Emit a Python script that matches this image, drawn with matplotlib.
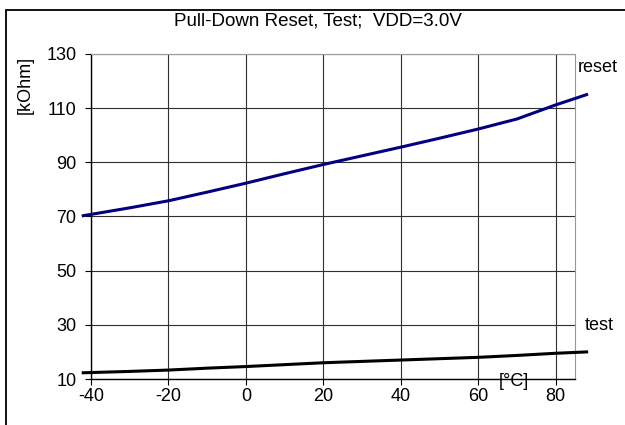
import matplotlib.pyplot as plt
from matplotlib.patches import Rectangle

# Temperatura [°C] y resistencias de pull-down [kOhm]
temp = [-42, -30, -20, -10, 0, 10, 20, 30, 40, 50, 60, 70, 80, 88]
reset_kohm = [70.3, 73.2, 75.8, 79.0, 82.3, 85.8, 89.2, 92.4, 95.6, 98.9, 102.3, 106.0, 111.2, 115.0]
test_kohm = [12.3, 12.8, 13.3, 14.0, 14.6, 15.3, 16.0, 16.5, 17.0, 17.5, 18.0, 18.7, 19.5, 20.0]

x_ticks = [-40, -20, 0, 20, 40, 60, 80]
y_ticks = [10, 30, 50, 70, 90, 110, 130]

plt.rcParams['font.family'] = ['Liberation Sans', 'DejaVu Sans']
plt.rcParams['axes.unicode_minus'] = False

fig = plt.figure(figsize=(6.25, 4.25), dpi=100)
ax = fig.add_axes([91 / 625, 1 - 379 / 425, 484 / 625, 325 / 425])

# Marco exterior de la figura
fig.patches.append(Rectangle((6 / 625, -0.1), 1.2, 1 - 10 / 425 + 0.1,
                             transform=fig.transFigure, fill=False,
                             edgecolor='black', linewidth=1.3))

ax.plot(temp, reset_kohm, color='#000080', linewidth=2.2, clip_on=False, zorder=3)
ax.plot(temp, test_kohm, color='black', linewidth=2.2, clip_on=False, zorder=3)

ax.set_xlim(-40, 85)
ax.set_ylim(10, 130)
ax.set_xticks(x_ticks)
ax.set_yticks(y_ticks)
ax.grid(True, color='#303030', linewidth=0.8)
ax.set_axisbelow(True)

for side in ['top', 'right']:
    ax.spines[side].set_color('#999999')
for side in ['left', 'bottom']:
    ax.spines[side].set_color('black')
    ax.spines[side].set_linewidth(1.0)

ax.tick_params(axis='both', direction='out', length=4.5, width=0.8, labelsize=13)
ax.tick_params(axis='y', pad=6)
ax.tick_params(axis='x', pad=2)

fig.text(318 / 625, 1 - 21 / 425, 'Pull-Down Reset, Test;  VDD=3.0V',
         ha='center', va='center', fontsize=13.5)
fig.text(25 / 625, 1 - 85 / 425, '[kOhm]', rotation=90,
         ha='center', va='center', fontsize=13)
fig.text(514 / 625, 1 - 381 / 425, '[°C]', ha='center', va='center', fontsize=13)
fig.text(578 / 625, 1 - 68 / 425, 'reset', ha='left', va='center', fontsize=13)
fig.text(585 / 625, 1 - 325 / 425, 'test', ha='left', va='center', fontsize=13)

fig.savefig('out.png', dpi=100)
